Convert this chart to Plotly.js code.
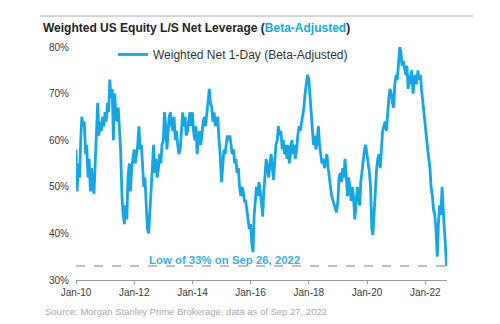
<!DOCTYPE html>
<html>
<head>
<meta charset="utf-8">
<script src="https://cdn.plot.ly/plotly-3.0.1.min.js"></script>
<style>
  html, body { margin: 0; padding: 0; background: #fff; }
  #chart { width: 500px; height: 324px; }
</style>
</head>
<body>
<div id="chart"></div>
<script>
// Semi-monthly readings (1st and 15th of each month), percent
const v2010 = [58, 49, 55, 52, 60, 65, 63, 64, 57, 59, 52, 56, 49, 54, 50, 48.5, 56, 62, 68, 61, 64, 62, 65, 63];
const v2011 = [66, 64, 68, 66, 73, 69, 71, 60, 70, 66, 64, 67, 63, 58, 48, 44, 42, 46, 43, 52, 55, 49, 54, 56];
const v2012 = [58, 55, 57, 59, 63, 58, 59, 55, 50, 52, 46, 41, 40, 44, 50, 55, 59, 53, 56, 52, 54, 57, 55, 59];
const v2013 = [60, 66, 63, 58, 62, 65, 66, 63, 62, 65, 60, 62, 59, 57, 58, 62, 66, 63, 65, 61, 62, 64, 66, 63];
const v2014 = [66, 62, 60, 63, 57, 60, 62, 59, 61, 64, 65, 63, 66, 69, 71, 68, 67, 64, 66, 63, 64, 65, 60, 57];
const v2015 = [51, 55, 58, 57, 59, 61, 60, 61, 59, 57, 58, 55, 56, 53, 54, 50, 48, 50, 49, 47, 47, 45, 44, 41];
const v2016 = [42, 38, 36, 44, 47, 50, 48, 51, 49, 46, 43.6, 49, 53, 56, 54, 52, 55, 57, 54, 51.5, 56, 59, 60, 63];
const v2017 = [61, 62, 58, 60, 57, 59, 56, 59, 55, 58, 60, 57, 59, 56, 58, 61, 63, 62, 64, 66, 67, 70, 72, 74];
const v2018 = [73, 70, 66, 62, 59, 61, 58, 60, 63, 59, 57, 55, 56, 54, 55, 57, 54, 52, 50, 48, 47, 46, 45, 44.5];
const v2019 = [47, 52, 53, 51, 54, 52, 56, 53, 48, 52, 50, 47, 50, 48, 43, 46, 50, 48, 46, 51, 54, 56, 58, 59];
const v2020 = [57, 55, 53, 50, 41, 39.7, 45, 50, 54, 56, 57, 54, 60, 62, 63, 64, 62, 66, 69, 71, 70, 68, 67, 72];
const v2021 = [74, 73, 78, 80, 79, 76, 77, 75, 74, 76, 71, 74, 72, 75, 70, 73, 74, 72, 75, 73, 74, 71, 68, 66];
const v2022 = [63, 60, 58, 56, 54, 50, 48, 45, 44, 41, 35, 42, 46, 44, 50, 45, 40];
const lastDate = '2022-09-26';
const lastValue = 33;

const years = [2010, 2011, 2012, 2013, 2014, 2015, 2016, 2017, 2018, 2019, 2020, 2021, 2022];
const yearValues = [v2010, v2011, v2012, v2013, v2014, v2015, v2016, v2017, v2018, v2019, v2020, v2021, v2022];

const tickDates = ['2010-01-01', '2012-01-01', '2014-01-01', '2016-01-01', '2018-01-01', '2020-01-01', '2022-01-01'];
const tickLabels = ['Jan-10', 'Jan-12', 'Jan-14', 'Jan-16', 'Jan-18', 'Jan-20', 'Jan-22'];
const yTicks = [30, 40, 50, 60, 70, 80];
const yLabels = ['30%', '40%', '50%', '60%', '70%', '80%'];
const lowLevel = 33;

const seriesName = 'Weighted Net 1-Day (Beta-Adjusted)';
const titleMain = 'Weighted US Equity L/S Net Leverage (';
const titleBlue = 'Beta-Adjusted';
const lowText = 'Low of 33% on Sep 26, 2022';
const sourceText = 'Source: Morgan Stanley Prime Brokerage, data as of Sep 27, 2022';

// build date/value arrays
const xs = [], ys = [];
years.forEach((y, i) => {
  yearValues[i].forEach((val, k) => {
    const m = Math.floor(k / 2) + 1;
    const d = (k % 2 === 0) ? '01' : '15';
    xs.push(y + '-' + String(m).padStart(2, '0') + '-' + d);
    ys.push(val);
  });
});
xs.push(lastDate); ys.push(lastValue);

const blue = '#17a6e4';
const FONT = 'Arial, "Liberation Sans", sans-serif';

const traces = [{
  type: 'scatter', mode: 'lines', x: xs, y: ys, name: seriesName,
  line: { color: blue, width: 2.8 }, showlegend: true
}];

const layout = {
  width: 500, height: 324,
  margin: { l: 76, r: 53, t: 47, b: 44 },
  paper_bgcolor: '#fff', plot_bgcolor: '#fff',
  font: { family: FONT, size: 10, color: '#444' },
  title: {
    text: '<b>' + titleMain + '<span style="color:' + blue + '">' + titleBlue + '</span>)</b>',
    font: { family: FONT, size: 12, color: '#222' },
    xref: 'container', yref: 'container', x: 43 / 500, xanchor: 'left',
    y: 1 - 28 / 324, yanchor: 'middle'
  },
  xaxis: {
    type: 'date', range: ['2010-01-01', '2022-10-01'],
    tickvals: tickDates, ticktext: tickLabels,
    showgrid: false, zeroline: false,
    showline: true, linecolor: '#999', linewidth: 1,
    ticks: 'outside', ticklen: 3, tickcolor: '#999',
    tickfont: { family: FONT, size: 10, color: '#3a3a3a' }
  },
  yaxis: {
    range: [30, 80], tickvals: yTicks, ticktext: yLabels,
    showgrid: false, zeroline: false, showline: false, ticks: '',
    ticklabelstandoff: 6,
    tickfont: { family: FONT, size: 10, color: '#3a3a3a' }
  },
  showlegend: true,
  legend: {
    x: (113 - 76) / 371, xanchor: 'left', y: (280 - 40) / 233, yanchor: 'top',
    bgcolor: 'rgba(0,0,0,0)', font: { family: FONT, size: 12, color: '#333' }
  },
  shapes: [
    { type: 'line', xref: 'x', yref: 'y', x0: '2010-01-01', x1: lastDate, y0: lowLevel, y1: lowLevel,
      line: { color: '#aaa', width: 1.5, dash: 'dash' } },
    { type: 'line', xref: 'paper', yref: 'paper', x0: (40 - 76) / 371, x1: (473 - 76) / 371,
      y0: (280 - 16) / 233, y1: (280 - 16) / 233, line: { color: '#aaa', width: 1 } }
  ],
  annotations: [
    { text: '<b>' + lowText + '</b>', xref: 'paper', yref: 'paper',
      x: (147 - 76) / 371, xanchor: 'left', y: (280 - 260) / 233, yanchor: 'middle',
      showarrow: false, font: { family: FONT, size: 11.4, color: '#3bb0e3' } },
    { text: sourceText, xref: 'paper', yref: 'paper',
      x: (43 - 76) / 371, xanchor: 'left', y: (280 - 311) / 233, yanchor: 'middle',
      showarrow: false, font: { family: FONT, size: 9.5, color: '#aaa' } }
  ]
};

Plotly.newPlot('chart', traces, layout, { displayModeBar: false, staticPlot: true });
</script>
</body>
</html>
